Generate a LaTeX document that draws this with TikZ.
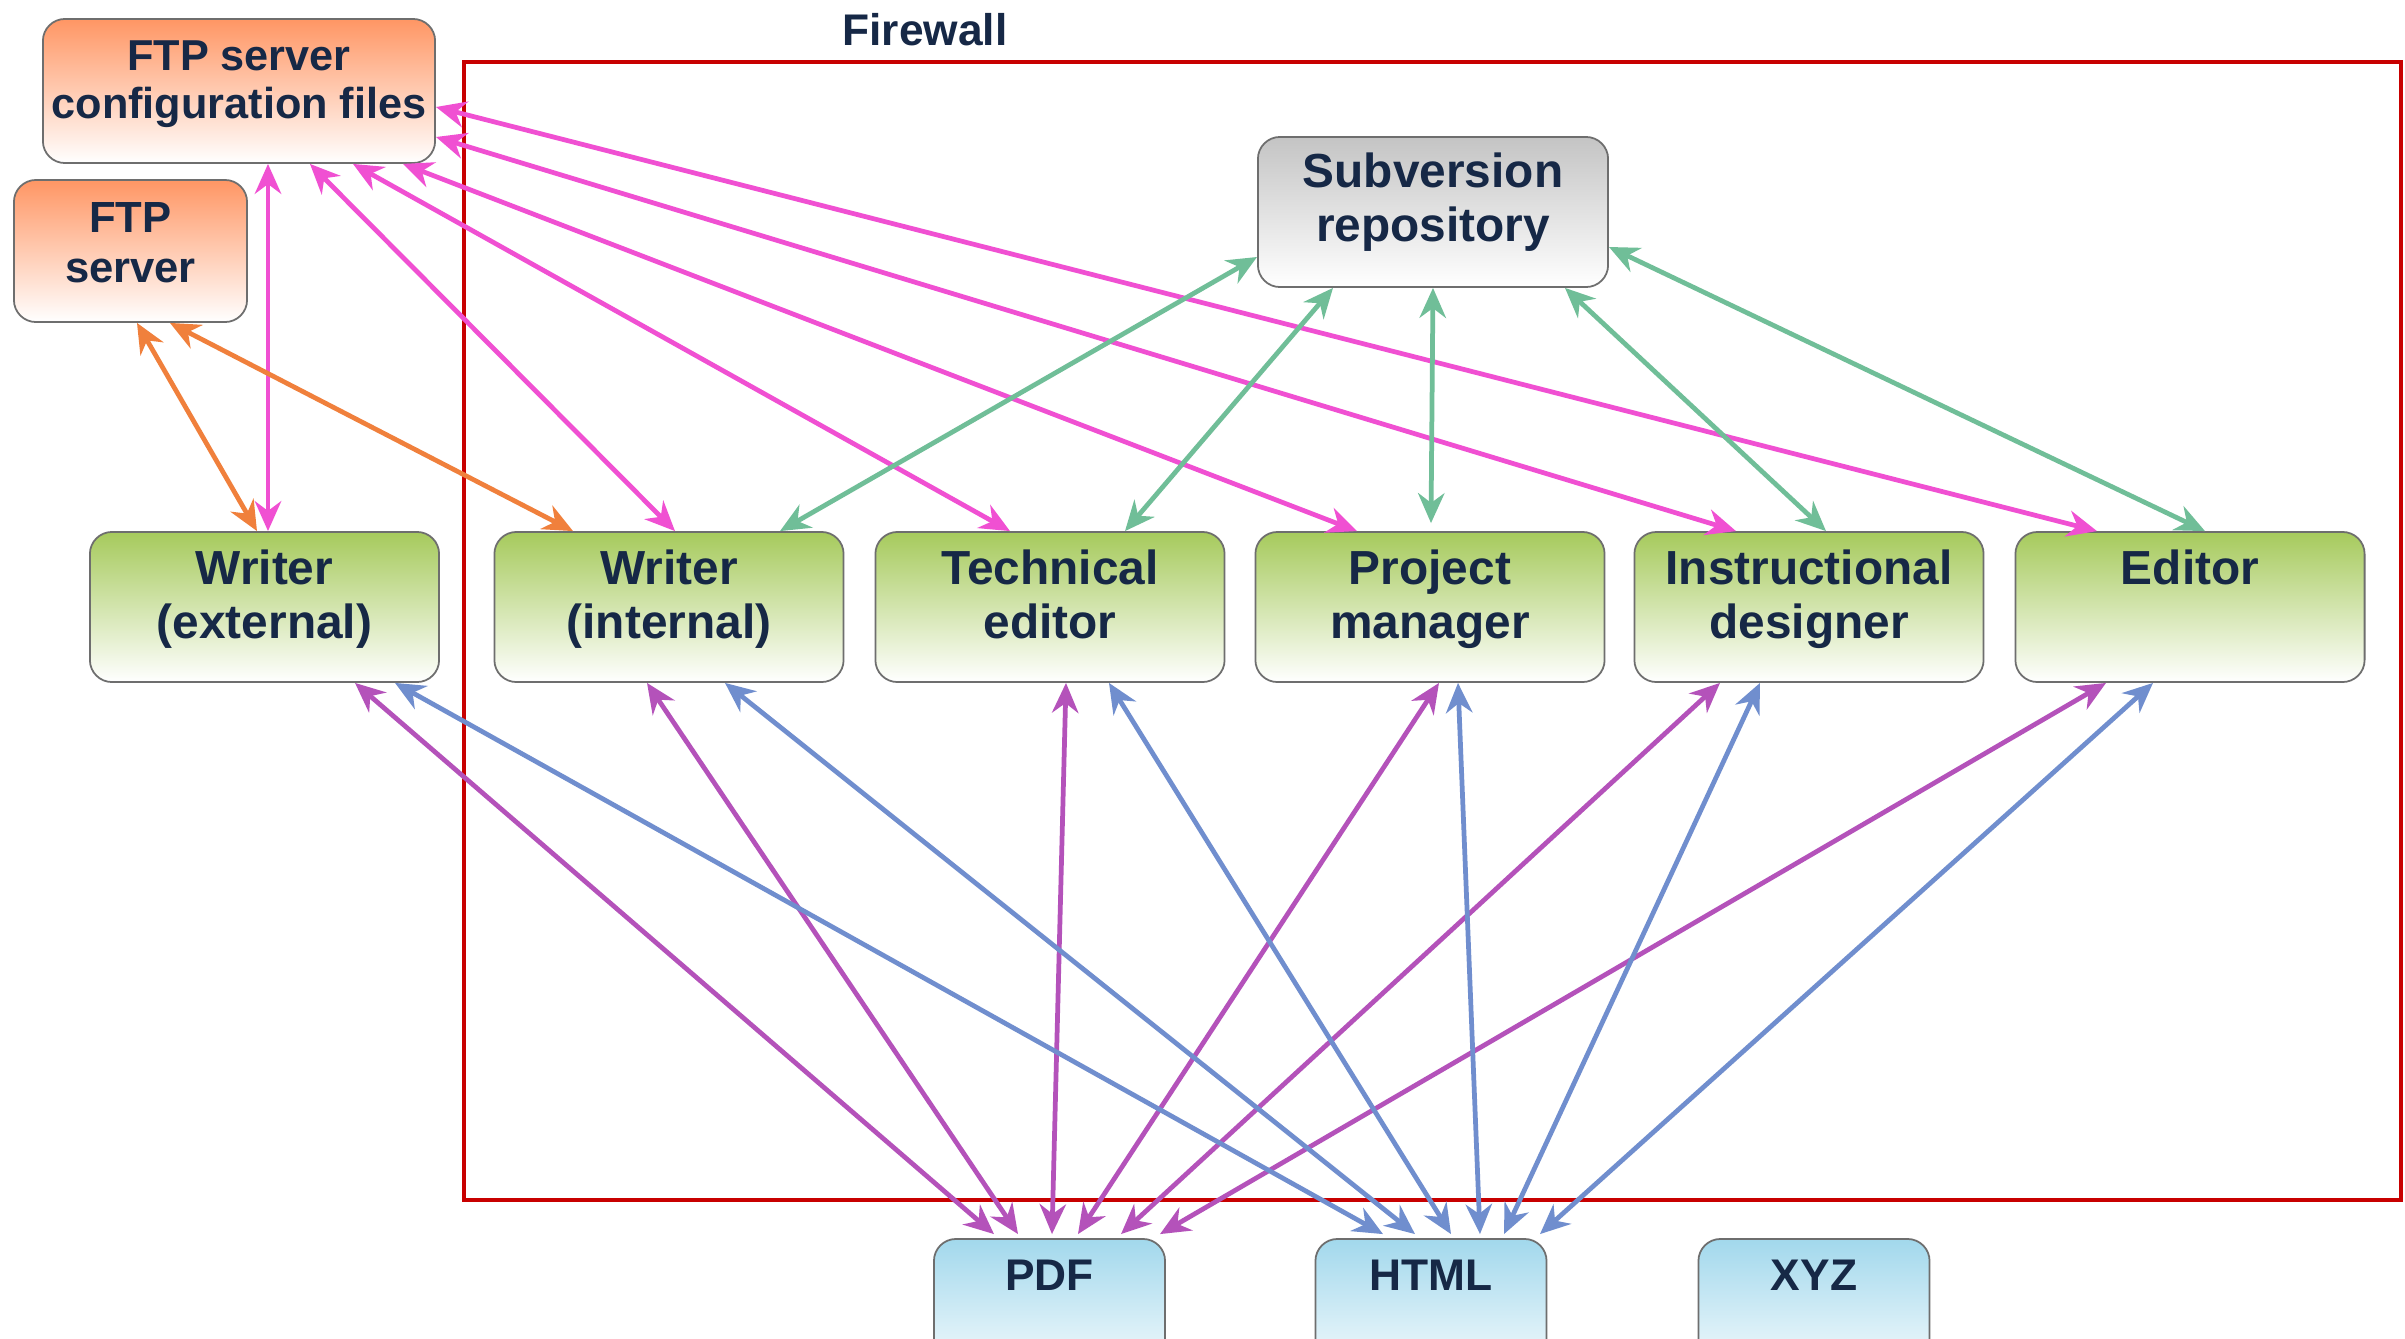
\documentclass[tikz,border=0pt]{standalone}
\usepackage{fontspec}
\setmainfont{Liberation Sans}
\usetikzlibrary{arrows.meta}
\definecolor{navy}{RGB}{22,40,70}
\definecolor{boxgray}{RGB}{110,110,110}
\definecolor{orTop}{RGB}{255,150,100}
\definecolor{grTop}{RGB}{166,202,92}
\definecolor{gyTop}{RGB}{196,196,196}
\definecolor{blTop}{RGB}{162,216,236}
\definecolor{fwred}{RGB}{200,0,0}
\definecolor{cMag}{RGB}{240,80,210}
\definecolor{cOra}{RGB}{240,128,60}
\definecolor{cGrn}{RGB}{112,190,152}
\definecolor{cPur}{RGB}{180,82,186}
\definecolor{cBlu}{RGB}{112,142,206}
\begin{document}
\begin{tikzpicture}[x=0.01cm,y=-0.01cm,
  boxbase/.style={draw=boxgray, line width=0.5pt, rounded corners=0.22cm, inner sep=0pt},
  orbox/.style={boxbase, top color=orTop, bottom color=white},
  grbox/.style={boxbase, top color=grTop, bottom color=white, minimum width=3.49cm, minimum height=1.5cm},
  gybox/.style={boxbase, top color=gyTop, bottom color=white, minimum width=3.5cm, minimum height=1.5cm},
  blbox/.style={boxbase, top color=blTop, bottom color=white, minimum width=2.31cm, minimum height=1.5cm},
  gtext/.style={text=navy, font=\bfseries\fontsize{13.6}{15.3}\selectfont, align=center, inner sep=0pt, anchor=north},
  otext/.style={text=navy, font=\bfseries\fontsize{12.3}{13.7}\selectfont, align=center, inner sep=0pt, anchor=north},
  btext/.style={text=navy, font=\bfseries\fontsize{12.6}{13}\selectfont, align=center, inner sep=0pt, anchor=north},
  arr/.style={line width=1.35pt, arrows={Stealth[length=8.5pt,width=7.5pt]-Stealth[length=8.5pt,width=7.5pt]}},
  fw/.style={draw=fwred, line width=1.4pt}
]
\useasboundingbox (0,0) rectangle (2405,1339);
\clip (0,0) rectangle (2405,1339);
\fill[white] (0,0) rectangle (2405,1339);

% firewall
\node[btext] (fwt) at (925,13) {Firewall};
\coordinate (fwa) at (464,62);
\coordinate (fwb) at (2401,1200);
\draw[fw] (fwa) rectangle (fwb);

% boxes (shapes first, so connectors can refer to them)
\node[orbox, minimum width=3.92cm, minimum height=1.44cm] (cfg) at (239,91) {};
\node[orbox, minimum width=2.33cm, minimum height=1.42cm] (ftp) at (130.5,251) {};
\node[gybox] (svn) at (1433,212) {};
\node[grbox] (wx) at (264.5,607) {};
\node[grbox] (wi) at (669,607) {};
\node[grbox] (te) at (1050,607) {};
\node[grbox] (pm) at (1430,607) {};
\node[grbox] (id) at (1809,607) {};
\node[grbox] (ed) at (2190,607) {};
\node[blbox] (pdf) at (1049.5,1314) {};
\node[blbox] (html) at (1431,1314) {};
\node[blbox] (xyz) at (1814,1314) {};

% connectors: magenta (FTP configuration files)
\draw[arr, cMag] (268,0 |- cfg.south) -- (268,0 |- wx.north);
\draw[arr, cMag] (310,0 |- cfg.south) -- (675,0 |- wi.north);
\draw[arr, cMag] (353,0 |- cfg.south) -- (1010,0 |- te.north);
\draw[arr, cMag] (403,0 |- cfg.south) -- (1357,0 |- pm.north);
\draw[arr, cMag] (cfg.east |- 0,137) -- (1736,0 |- id.north);
\draw[arr, cMag] (cfg.east |- 0,107) -- (2097,0 |- ed.north);

% orange (FTP server)
\draw[arr, cOra] (137,0 |- ftp.south) -- (257,0 |- wx.north);
\draw[arr, cOra] (170,0 |- ftp.south) -- (573,0 |- wi.north);

% green (Subversion repository)
\draw[arr, cGrn] (svn.west |- 0,257) -- (780,0 |- wi.north);
\draw[arr, cGrn] (1333,0 |- svn.south) -- (1125,0 |- te.north);
\draw[arr, cGrn] (1433,0 |- svn.south) -- ([yshift=0.08cm]1431,0 |- pm.north);
\draw[arr, cGrn] (1565,0 |- svn.south) -- (1826,0 |- id.north);
\draw[arr, cGrn] (svn.east |- 0,247) -- (2205,0 |- ed.north);

% purple (PDF)
\draw[arr, cPur] (355,0 |- wx.south) -- ([yshift=0.04cm]994,0 |- pdf.north);
\draw[arr, cPur] (647,0 |- wi.south) -- ([yshift=0.04cm]1018,0 |- pdf.north);
\draw[arr, cPur] (1066,0 |- te.south) -- ([yshift=0.04cm]1052,0 |- pdf.north);
\draw[arr, cPur] (1439,0 |- pm.south) -- ([yshift=0.04cm]1078,0 |- pdf.north);
\draw[arr, cPur] (1720,0 |- id.south) -- ([yshift=0.04cm]1121,0 |- pdf.north);
\draw[arr, cPur] (2106,0 |- ed.south) -- ([yshift=0.04cm]1160,0 |- pdf.north);

% blue (HTML)
\draw[arr, cBlu] (395,0 |- wx.south) -- ([yshift=0.04cm]1383,0 |- html.north);
\draw[arr, cBlu] (725,0 |- wi.south) -- ([yshift=0.04cm]1415,0 |- html.north);
\draw[arr, cBlu] (1109,0 |- te.south) -- ([yshift=0.04cm]1451,0 |- html.north);
\draw[arr, cBlu] (1458,0 |- pm.south) -- ([yshift=0.04cm]1480,0 |- html.north);
\draw[arr, cBlu] (1760,0 |- id.south) -- ([yshift=0.04cm]1504,0 |- html.north);
\draw[arr, cBlu] (2153,0 |- ed.south) -- ([yshift=0.04cm]1540,0 |- html.north);

% texts
\node[otext] (cfgt) at (239,40) {FTP server\\configuration files};
\node[otext, font=\bfseries\fontsize{12.4}{14.2}\selectfont] (ftpt) at (130.5,202) {FTP\\server};
\node[gtext] (svnt) at (1433,152) {Subversion\\repository};
\node[gtext] (wxt) at (264.5,549) {Writer\\(external)};
\node[gtext] (wit) at (669,549) {Writer\\(internal)};
\node[gtext] (tet) at (1050,549) {Technical\\editor};
\node[gtext] (pmt) at (1430,549) {Project\\manager};
\node[gtext] (idt) at (1809,549) {Instructional\\designer};
\node[gtext] (edt) at (2190,549) {Editor};
\node[btext] (pdft) at (1049.5,1259) {PDF};
\node[btext] (htmlt) at (1431,1259) {HTML};
\node[btext] (xyzt) at (1814,1259) {XYZ};
\end{tikzpicture}
\end{document}
